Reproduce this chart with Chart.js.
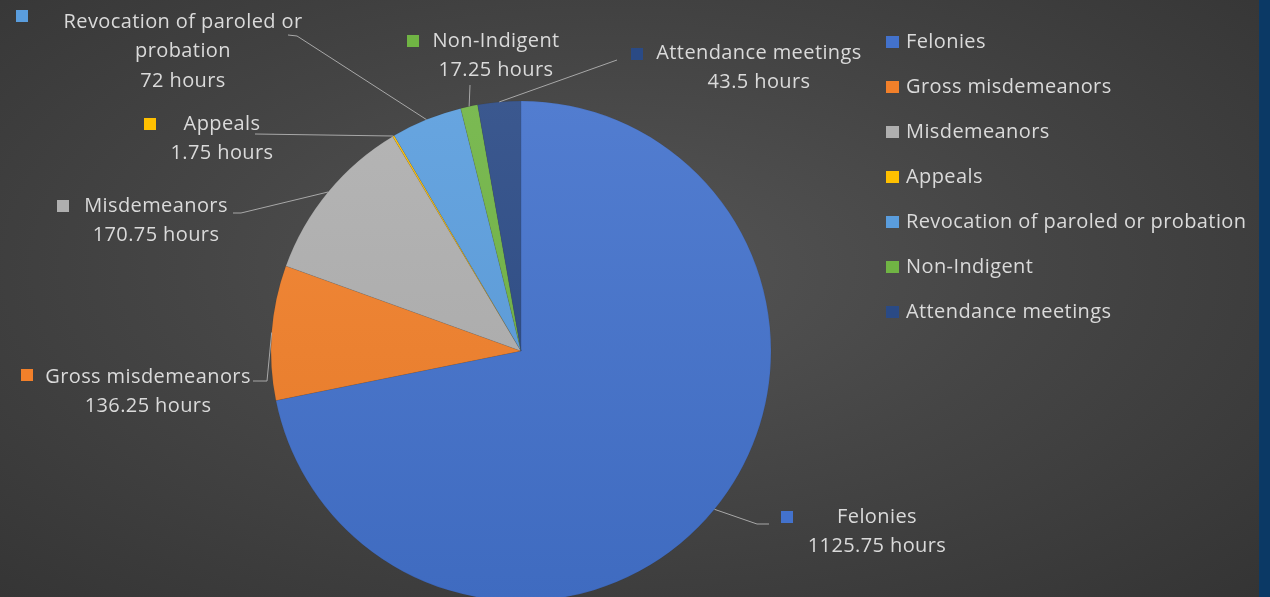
<!DOCTYPE html>
<html>
<head>
<meta charset="utf-8">
<script src="https://cdn.jsdelivr.net/npm/chart.js@4.4.1/dist/chart.umd.min.js"></script>
<style>
  html, body { margin: 0; padding: 0; width: 1270px; height: 597px; overflow: hidden; }
  body { background: radial-gradient(ellipse 75% 80% at 48% 45%, #555555 0%, #454545 45%, #333333 100%); }
  #wrap { position: absolute; left: 0; top: 0; width: 1270px; height: 597px; }
  #edge { position: absolute; left: 1259px; top: 0; width: 11px; height: 597px; background: #0b3965; }
</style>
</head>
<body>
<div id="wrap"><canvas id="myChart" width="1270" height="597"></canvas></div>
<div id="edge"></div>
<script>
// data
const categories = ['Felonies', 'Gross misdemeanors', 'Misdemeanors', 'Appeals',
  'Revocation of paroled or probation', 'Non-Indigent', 'Attendance meetings'];
const hours = [1125.75, 136.25, 170.75, 1.75, 72, 17.25, 43.5];
const unit = 'hours';
// data label name lines (Revocation wraps in the picture)
const labelNames = [['Felonies'], ['Gross misdemeanors'], ['Misdemeanors'], ['Appeals'],
  ['Revocation of paroled or', 'probation'], ['Non-Indigent'], ['Attendance meetings']];

const colors = ['#4372cc', '#f2802a', '#afafaf', '#ffc000', '#5a9ddd', '#70b444', '#2a4a85'];
const textColor = '#dadada';
const font = '20px "Open Sans"';
const pieRadius = 250;

// where each data label sits (text centre x, first line y, key square, leader start points)
const labelLayout = [
  { cx: 877, y: 517, key: [787, 517], lead: [[769, 524], [757, 524]] },
  { cx: 148, y: 377, key: [27, 375], lead: [[253, 381], [267, 381]] },
  { cx: 156, y: 206, key: [63, 206], lead: [[233, 213], [241, 213]] },
  { cx: 222, y: 124, key: [150, 124], lead: [[255, 134]] },
  { cx: 183, y: 22, key: [22, 16], lead: [[288, 35], [297, 36]] },
  { cx: 496, y: 41, key: [413, 41], lead: [[470, 85]] },
  { cx: 759, y: 53, key: [637, 54], lead: [[617, 60]] }
];
const legendX = 886, legendY = 42, legendStep = 45;

function shade(hex, amt) {
  const n = parseInt(hex.slice(1), 16);
  let r = n >> 16, g = (n >> 8) & 255, b = n & 255;
  const f = v => Math.round(amt >= 0 ? v + (255 - v) * amt : v * (1 + amt));
  return 'rgb(' + f(r) + ',' + f(g) + ',' + f(b) + ')';
}

const labelPlugin = {
  id: 'labelPlugin',
  afterDraw(chart) {
    const ctx = chart.ctx;
    const arcs = chart.getDatasetMeta(0).data;
    ctx.save();
    ctx.font = font;
    ctx.letterSpacing = '0.4px';
    ctx.textBaseline = 'middle';
    // data labels with leader lines
    arcs.forEach((arc, i) => {
      const L = labelLayout[i];
      const mid = (arc.startAngle + arc.endAngle) / 2;
      const px = arc.x + Math.cos(mid) * arc.outerRadius;
      const py = arc.y + Math.sin(mid) * arc.outerRadius;
      ctx.strokeStyle = '#a8a8a8';
      ctx.lineWidth = 1;
      ctx.beginPath();
      ctx.moveTo(L.lead[0][0], L.lead[0][1]);
      for (let k = 1; k < L.lead.length; k++) ctx.lineTo(L.lead[k][0], L.lead[k][1]);
      ctx.lineTo(px, py);
      ctx.stroke();

      ctx.fillStyle = colors[i];
      ctx.fillRect(L.key[0] - 6, L.key[1] - 6, 12, 12);
      ctx.fillStyle = textColor;
      ctx.textAlign = 'center';
      const lines = labelNames[i].concat([hours[i] + ' ' + unit]);
      lines.forEach((t, k) => ctx.fillText(t, L.cx, L.y + k * 29.5));
    });
    // legend
    ctx.textAlign = 'left';
    categories.forEach((c, i) => {
      const y = legendY + i * legendStep;
      ctx.fillStyle = colors[i];
      ctx.fillRect(legendX, y - 6, 13, 12);
      ctx.fillStyle = textColor;
      ctx.fillText(c, legendX + 20, y);
    });
    ctx.restore();
  }
};

const ctx = document.getElementById('myChart');
new Chart(ctx, {
  type: 'pie',
  data: {
    labels: categories,
    datasets: [{
      data: hours,
      radius: pieRadius,
      borderWidth: 0.5,
      borderColor: 'rgba(0,0,0,0.12)',
      backgroundColor: (c) => {
        const a = c.chart.chartArea;
        const base = colors[c.dataIndex];
        if (!a) return base;
        const cy = (a.top + a.bottom) / 2;
        const g = c.chart.ctx.createLinearGradient(0, cy - pieRadius, 0, cy + pieRadius);
        g.addColorStop(0, shade(base, 0.08));
        g.addColorStop(1, shade(base, -0.06));
        return g;
      }
    }]
  },
  options: {
    responsive: false,
    devicePixelRatio: 1,
    animation: false,
    layout: { padding: { left: 0, right: 228, top: 105, bottom: 0 } },
    plugins: { legend: { display: false }, tooltip: { enabled: false } }
  },
  plugins: [labelPlugin]
});
</script>
</body>
</html>
